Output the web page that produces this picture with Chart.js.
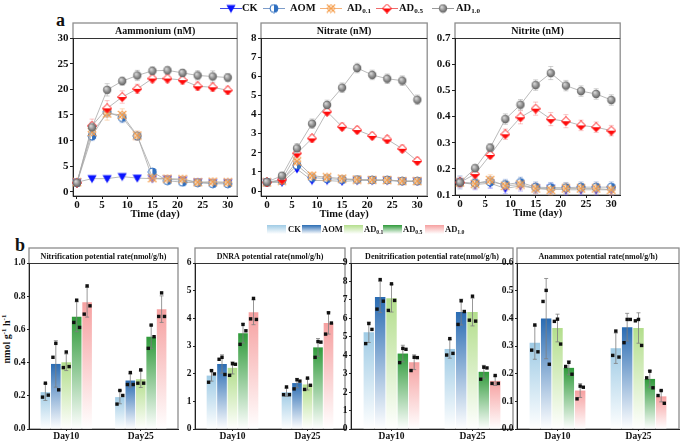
<!DOCTYPE html>
<html>
<head>
<meta charset="utf-8">
<script src="https://cdn.jsdelivr.net/npm/chart.js@4.4.1/dist/chart.umd.min.js"></script>
<style>
  body { margin: 0; background: #fff; }
  #fig { position: relative; width: 685px; height: 444px; overflow: hidden;
         font-family: "Liberation Serif", "Times New Roman", serif; font-weight: bold; color: #111; }
  #fig canvas { position: absolute; }
  .tag { position: absolute; font-size: 18px; line-height: 18px; }
  .lg { position: absolute; white-space: nowrap; }
  .lg sub { font-size: 68%; vertical-align: -2px; line-height: 0; }
  .sw { position: absolute; width: 19px; height: 9px; }
  #ylab { position: absolute; left: -33px; top: 333px; width: 80px; text-align: center;
          font-size: 10px; line-height: 12px; white-space: nowrap; transform: rotate(-90deg); }
  #ylab sup { font-size: 70%; line-height: 0; }
</style>
</head>
<body>
<div id="fig">
  <div class="tag" style="left:56px;top:11px">a</div>
  <div class="tag" style="left:15px;top:236px">b</div>
  <div id="ylab">nmol g<sup>-1</sup> h<sup>-1</sup></div>
</div>
<script>
const SERIF = '"Liberation Serif", "Times New Roman", serif';

// ---- data ----
const days = [0, 3, 6, 9, 12, 15, 18, 21, 24, 27, 30];
const series = ['CK', 'AOM', 'AD0.1', 'AD0.5', 'AD1.0'];
const groups = ['Day10', 'Day25'];

// panel a, rows = CK, AOM, AD0.1, AD0.5, AD1.0
const nh4 = [
  [1.9, 2.6, 2.6, 3.0, 2.7, 2.6, 2.5, 2.3, 1.9, 1.8, 1.8],
  [1.8, 10.9, 15.6, 14.5, 10.9, 3.9, 2.2, 1.9, 1.8, 1.6, 1.6],
  [1.9, 11.7, 15.3, 15.0, 11.0, 2.7, 2.6, 2.5, 1.9, 2.0, 1.9],
  [1.8, 12.9, 16.3, 18.5, 20.1, 22.1, 22.1, 21.8, 20.6, 20.4, 19.8],
  [1.8, 12.6, 19.9, 21.6, 22.7, 23.6, 23.7, 23.2, 22.7, 22.5, 22.3]
];
const nh4Err = [
  [0.3, 0.3, 0.3, 0.3, 0.3, 0.3, 0.3, 0.3, 0.3, 0.3, 0.3],
  [0.4, 0.9, 1.0, 1.0, 0.8, 0.5, 0.4, 0.4, 0.3, 0.4, 0.4],
  [0.4, 1.0, 1.3, 1.2, 0.9, 0.5, 0.5, 0.5, 0.4, 0.4, 0.4],
  [0.4, 1.3, 1.5, 1.2, 0.9, 0.8, 0.8, 0.8, 0.8, 0.8, 0.8],
  [0.4, 1.0, 1.2, 0.8, 1.0, 0.8, 0.7, 0.7, 0.9, 1.1, 0.8]
];
const no3 = [
  [0.45, 0.45, 1.15, 0.55, 0.55, 0.5, 0.55, 0.55, 0.55, 0.5, 0.5],
  [0.45, 0.55, 1.35, 0.7, 0.65, 0.6, 0.6, 0.58, 0.58, 0.52, 0.52],
  [0.45, 0.55, 1.55, 0.8, 0.72, 0.65, 0.6, 0.58, 0.57, 0.52, 0.52],
  [0.45, 0.6, 1.97, 2.75, 4.15, 3.36, 3.19, 2.88, 2.7, 2.21, 1.57],
  [0.47, 0.8, 2.23, 3.52, 4.5, 5.4, 6.43, 6.07, 5.87, 5.77, 4.77]
];
const no3Err = [
  [0.1, 0.1, 0.12, 0.1, 0.1, 0.1, 0.1, 0.1, 0.1, 0.1, 0.1],
  [0.12, 0.12, 0.15, 0.12, 0.12, 0.12, 0.12, 0.12, 0.12, 0.12, 0.12],
  [0.2, 0.2, 0.25, 0.15, 0.15, 0.15, 0.15, 0.15, 0.15, 0.15, 0.15],
  [0.15, 0.15, 0.2, 0.2, 0.2, 0.2, 0.2, 0.2, 0.2, 0.2, 0.2],
  [0.15, 0.15, 0.25, 0.25, 0.25, 0.25, 0.25, 0.25, 0.25, 0.25, 0.25]
];
const no2 = [
  [0.148, 0.14, 0.145, 0.125, 0.135, 0.125, 0.125, 0.12, 0.12, 0.12, 0.12],
  [0.148, 0.145, 0.15, 0.14, 0.148, 0.13, 0.128, 0.128, 0.13, 0.13, 0.13],
  [0.148, 0.143, 0.157, 0.135, 0.14, 0.125, 0.12, 0.125, 0.125, 0.125, 0.12],
  [0.148, 0.18, 0.253, 0.332, 0.397, 0.43, 0.39, 0.382, 0.366, 0.359, 0.346],
  [0.148, 0.202, 0.281, 0.39, 0.445, 0.52, 0.566, 0.518, 0.497, 0.486, 0.463]
];
const no2Err = [
  [0.02, 0.02, 0.02, 0.02, 0.02, 0.02, 0.02, 0.02, 0.02, 0.02, 0.02],
  [0.025, 0.02, 0.02, 0.02, 0.02, 0.02, 0.02, 0.02, 0.02, 0.02, 0.02],
  [0.02, 0.02, 0.02, 0.02, 0.02, 0.02, 0.02, 0.02, 0.02, 0.02, 0.02],
  [0.015, 0.015, 0.015, 0.02, 0.025, 0.025, 0.025, 0.025, 0.02, 0.02, 0.02],
  [0.015, 0.015, 0.015, 0.02, 0.02, 0.02, 0.025, 0.02, 0.02, 0.02, 0.02]
];
const nh4Ticks = [0, 5, 10, 15, 20, 25, 30];
const no3Ticks = [0, 1, 2, 3, 4, 5, 6, 7, 8];
const no2Ticks = [0.1, 0.2, 0.3, 0.4, 0.5, 0.6, 0.7];
const dayTicks = [0, 5, 10, 15, 20, 25, 30];

// panel b, rows = CK, AOM, AD0.1, AD0.5, AD1.0 ; [Day10, Day25]
const nitMean = [[0.222, 0.192], [0.392, 0.292], [0.402, 0.30], [0.676, 0.556], [0.764, 0.722]];
const nitSd = [[0.05, 0.04], [0.14, 0.04], [0.05, 0.05], [0.09, 0.07], [0.09, 0.08]];
const nitDots = [
  [[0.276, 0.192, 0.204], [0.232, 0.15, 0.202]],
  [[0.516, 0.432, 0.236], [0.34, 0.268, 0.268]],
  [[0.464, 0.37, 0.376], [0.356, 0.276, 0.276]],
  [[0.776, 0.642, 0.612], [0.626, 0.486, 0.556]],
  [[0.862, 0.692, 0.742], [0.82, 0.678, 0.678]]
];
const dnraMean = [[1.93, 1.33], [2.35, 1.66], [2.21, 1.61], [3.46, 2.95], [4.22, 3.83]];
const dnraSd = [[0.2, 0.15], [0.33, 0.17], [0.22, 0.2], [0.35, 0.32], [0.45, 0.4]];
const dnraDots = [
  [[2.11, 1.69, 1.99], [1.52, 1.24, 1.24]],
  [[2.59, 2.52, 1.97], [1.78, 1.45, 1.73]],
  [[2.36, 1.94, 2.34], [1.84, 1.43, 1.58]],
  [[3.78, 3.06, 3.55], [3.16, 2.59, 3.14]],
  [[4.72, 3.98, 3.96], [4.2, 3.43, 3.83]]
];
const denMean = [[5.24, 4.34], [7.16, 6.34], [7.09, 6.34], [4.09, 3.1], [3.62, 2.61]];
const denSd = [[0.55, 0.5], [0.85, 0.7], [0.75, 0.75], [0.45, 0.35], [0.4, 0.25]];
const denDots = [
  [[5.72, 4.63, 5.4], [4.9, 4.01, 4.1]],
  [[8.1, 6.5, 6.93], [6.95, 5.67, 6.37]],
  [[7.87, 6.43, 6.97], [7.2, 5.9, 5.85]],
  [[4.37, 3.6, 4.32], [3.35, 2.7, 3.31]],
  [[3.89, 3.17, 3.87], [2.9, 2.47, 2.47]]
];
const anaMean = [[0.312, 0.292], [0.399, 0.368], [0.365, 0.365], [0.221, 0.181], [0.139, 0.118]];
const anaSd = [[0.06, 0.055], [0.145, 0.05], [0.05, 0.055], [0.025, 0.03], [0.025, 0.02]];
const anaDots = [
  [[0.376, 0.285, 0.279], [0.354, 0.266, 0.26]],
  [[0.501, 0.461, 0.234], [0.396, 0.312, 0.396]],
  [[0.397, 0.389, 0.307], [0.396, 0.391, 0.302]],
  [[0.241, 0.226, 0.198], [0.209, 0.185, 0.149]],
  [[0.155, 0.109, 0.151], [0.139, 0.121, 0.093]]
];
const nitTicks = [0, 0.2, 0.4, 0.6, 0.8, 1.0];
const dnraTicks = [0, 1, 2, 3, 4, 5, 6];
const denTicks = [0, 1, 2, 3, 4, 5, 6, 7, 8, 9];
const anaTicks = [0, 0.1, 0.2, 0.3, 0.4, 0.5, 0.6];

// ---- styles ----
const barColors = ['#9fcbe5', '#2a6cb3', '#b3de8c', '#2f9a3a', '#f6a0a0'];
const errColors = ['rgba(90,90,255,0.45)', 'rgba(90,130,200,0.5)', 'rgba(245,165,95,0.55)',
                   'rgba(240,110,110,0.5)', 'rgba(150,150,150,0.55)'];
const legLine = ['#3d49e6', '#7d9cc9', '#f5b27a', '#ee6a6a', '#9a9a9a'];
const JIT = [0, -0.3, 0.3];

Chart.defaults.font.family = SERIF;
Chart.defaults.font.weight = 'bold';
Chart.defaults.color = '#111';

const fig = document.getElementById('fig');

function marker(kind, s) {
  const c = document.createElement('canvas');
  c.width = s; c.height = s;
  const g = c.getContext('2d');
  const m = s / 2;
  if (kind === 0) {
    g.fillStyle = '#0a14ff';
    g.beginPath();
    g.moveTo(m - s * 0.46, m - s * 0.36); g.lineTo(m + s * 0.46, m - s * 0.36); g.lineTo(m, m + s * 0.44);
    g.closePath(); g.fill();
  } else if (kind === 1) {
    const r = s * 0.4;
    g.fillStyle = '#fff'; g.beginPath(); g.arc(m, m, r, 0, Math.PI * 2); g.fill();
    g.fillStyle = '#2f6fc0'; g.beginPath(); g.arc(m, m, r, -Math.PI / 2, Math.PI / 2); g.closePath(); g.fill();
    g.strokeStyle = '#2f6fc0'; g.lineWidth = 1; g.beginPath(); g.arc(m, m, r, 0, Math.PI * 2); g.stroke();
  } else if (kind === 2) {
    const d = s * 0.42;
    g.fillStyle = 'rgba(250,205,160,0.55)';
    g.strokeStyle = '#f59a45'; g.lineWidth = 0.9;
    g.beginPath(); g.moveTo(m, m - d); g.lineTo(m + d, m); g.lineTo(m, m + d); g.lineTo(m - d, m); g.closePath();
    g.fill(); g.stroke();
    g.lineWidth = 1.2;
    g.beginPath(); g.moveTo(m - d, m - d); g.lineTo(m + d, m + d); g.moveTo(m + d, m - d); g.lineTo(m - d, m + d); g.stroke();
  } else if (kind === 3) {
    const d = s * 0.45;
    g.fillStyle = '#fff';
    g.beginPath(); g.moveTo(m, m - d); g.lineTo(m + d, m); g.lineTo(m, m + d); g.lineTo(m - d, m); g.closePath(); g.fill();
    g.fillStyle = '#ff0a0a';
    g.beginPath(); g.moveTo(m - d, m); g.lineTo(m + d, m); g.lineTo(m, m + d); g.closePath(); g.fill();
    g.strokeStyle = '#ff0a0a'; g.lineWidth = 1;
    g.beginPath(); g.moveTo(m, m - d); g.lineTo(m + d, m); g.lineTo(m, m + d); g.lineTo(m - d, m); g.closePath(); g.stroke();
  } else {
    const r = s * 0.42;
    const gr = g.createRadialGradient(m - r * 0.35, m - r * 0.4, r * 0.1, m, m, r);
    gr.addColorStop(0, '#d8d8d8'); gr.addColorStop(0.6, '#8e8e8e'); gr.addColorStop(1, '#5e5e5e');
    g.fillStyle = gr; g.beginPath(); g.arc(m, m, r, 0, Math.PI * 2); g.fill();
  }
  return c;
}
const markers = series.map((_, i) => marker(i, 10));

function addCanvas(sp) {
  const cv = document.createElement('canvas');
  sp.cx = sp.l - sp.yw; sp.cy = sp.s - 2;
  cv.width = Math.round(sp.r + 4 - sp.cx);
  cv.height = Math.round(sp.b + sp.xh - sp.cy);
  cv.style.left = sp.cx + 'px'; cv.style.top = sp.cy + 'px';
  fig.appendChild(cv);
  return cv;
}

function framePlugin(sp, title, size, xTitle) {
  return {
    id: 'frame',
    beforeDraw(chart) {
      const { ctx, chartArea: a } = chart;
      const st = sp.s - sp.cy;
      ctx.save();
      ctx.strokeStyle = '#8d8d8d'; ctx.lineWidth = 1.3;
      ctx.strokeRect(a.left, st, a.right - a.left, a.bottom - st);
      ctx.strokeStyle = '#333'; ctx.lineWidth = 1;
      ctx.beginPath(); ctx.moveTo(a.left, a.top + 0.5); ctx.lineTo(a.right, a.top + 0.5); ctx.stroke();
      ctx.fillStyle = '#111';
      ctx.font = `bold ${size}px ${SERIF}`;
      ctx.textAlign = 'center'; ctx.textBaseline = 'middle';
      ctx.fillText(title, (a.left + a.right) / 2, (st + a.top) / 2 + 1);
      if (xTitle) {
        ctx.font = `bold 10.5px ${SERIF}`;
        ctx.fillText(xTitle, (a.left + a.right) / 2, a.bottom + 18);
      }
      ctx.restore();
    }
  };
}

function axis(sp, min, max, ticks, fmt, size, horiz) {
  return {
    type: 'linear', min, max,
    afterBuildTicks: s => { s.ticks = ticks.map(v => ({ value: v })); },
    afterFit: s => { if (horiz) s.height = sp.xh; else s.width = sp.yw; },
    grid: { display: true, drawOnChartArea: false, drawTicks: true, tickLength: 3, color: '#222' },
    border: { display: true, color: '#222', width: 1 },
    ticks: { padding: horiz ? 0 : 1.5, autoSkip: false, maxRotation: 0,
             font: { size, weight: 'bold', family: SERIF }, color: '#111', callback: fmt }
  };
}

function linePanel(sp, title, vals, errs, yMin, yMax, yTicks, xMin, xMax, fmt) {
  const cv = addCanvas(sp);
  const errPlugin = {
    id: 'err',
    beforeDatasetsDraw(chart) {
      const ctx = chart.ctx, ys = chart.scales.y;
      ctx.save(); ctx.lineWidth = 0.8;
      vals.forEach((row, i) => {
        const meta = chart.getDatasetMeta(i);
        ctx.strokeStyle = errColors[i];
        row.forEach((v, j) => {
          const p = meta.data[j];
          const y1 = ys.getPixelForValue(v + errs[i][j]), y2 = ys.getPixelForValue(v - errs[i][j]);
          ctx.beginPath();
          ctx.moveTo(p.x, y1); ctx.lineTo(p.x, y2);
          ctx.moveTo(p.x - 2.5, y1); ctx.lineTo(p.x + 2.5, y1);
          ctx.moveTo(p.x - 2.5, y2); ctx.lineTo(p.x + 2.5, y2);
          ctx.stroke();
        });
      });
      ctx.restore();
    }
  };
  new Chart(cv, {
    type: 'line',
    data: {
      datasets: vals.map((row, i) => ({
        label: series[i],
        data: row.map((v, j) => ({ x: days[j], y: v })),
        borderColor: '#a8a8a8', borderWidth: 0.8,
        pointStyle: markers[i], pointRadius: 5,
        tension: 0, order: 4 - i, clip: false
      }))
    },
    options: {
      responsive: false, animation: false, devicePixelRatio: 1, events: [],
      layout: { padding: { left: 0, right: 4, top: sp.t - sp.cy, bottom: 0 } },
      plugins: { legend: { display: false }, tooltip: { enabled: false } },
      scales: {
        x: axis(sp, xMin, xMax, dayTicks, v => v, 11, true),
        y: axis(sp, yMin, yMax, yTicks, fmt, 11, false)
      }
    },
    plugins: [framePlugin(sp, title, 10, 'Time (day)'), errPlugin]
  });
}

function barPanel(sp, title, mean, sd, dots, yMax, yTicks, fmt) {
  const cv = addCanvas(sp);
  const dotPlugin = {
    id: 'dots',
    afterDatasetsDraw(chart) {
      const ctx = chart.ctx, ys = chart.scales.y;
      ctx.save();
      mean.forEach((row, i) => {
        const meta = chart.getDatasetMeta(i);
        row.forEach((m, j) => {
          const bar = meta.data[j];
          const yt = ys.getPixelForValue(m + sd[i][j]), yb = ys.getPixelForValue(m - sd[i][j]);
          ctx.strokeStyle = '#7d7d7d'; ctx.lineWidth = 0.8;
          ctx.beginPath();
          ctx.moveTo(bar.x, yt); ctx.lineTo(bar.x, yb);
          ctx.moveTo(bar.x - 2, yt); ctx.lineTo(bar.x + 2, yt);
          ctx.moveTo(bar.x - 2, yb); ctx.lineTo(bar.x + 2, yb);
          ctx.stroke();
          ctx.fillStyle = '#111';
          dots[i][j].forEach((v, k) => {
            const px = bar.x + JIT[k] * bar.width, py = ys.getPixelForValue(v);
            ctx.fillRect(px - 1.7, py - 1.7, 3.4, 3.4);
          });
        });
      });
      ctx.restore();
    }
  };
  const yAx = axis(sp, 0, yMax, yTicks, fmt, 9.5, false);
  yAx.grid.tickLength = 2;
  new Chart(cv, {
    type: 'bar',
    data: {
      labels: groups,
      datasets: mean.map((row, i) => ({
        label: series[i],
        data: row,
        borderWidth: 0,
        categoryPercentage: 0.7,
        barPercentage: 0.92,
        backgroundColor: c => {
          const ch = c.chart, ys = ch.scales && ch.scales.y;
          if (!ch.chartArea || !ys || c.raw == null) return barColors[i];
          const g = ch.ctx.createLinearGradient(0, ys.getPixelForValue(c.raw), 0, ys.getPixelForValue(0));
          g.addColorStop(0, barColors[i]);
          g.addColorStop(1, '#ffffff');
          return g;
        }
      }))
    },
    options: {
      responsive: false, animation: false, devicePixelRatio: 1, events: [],
      layout: { padding: { left: 0, right: 4, top: sp.t - sp.cy, bottom: 0 } },
      plugins: { legend: { display: false }, tooltip: { enabled: false } },
      scales: {
        x: {
          type: 'category', offset: true,
          afterFit: s => { s.height = sp.xh; },
          grid: { display: true, offset: false, drawOnChartArea: false, drawTicks: true, tickLength: 2, color: '#222' },
          border: { display: true, color: '#222', width: 1 },
          ticks: { padding: 0, font: { size: 9.5, weight: 'bold', family: SERIF }, color: '#111' }
        },
        y: yAx
      }
    },
    plugins: [framePlugin(sp, title, 8, null), dotPlugin]
  });
}

// ---- panel a ----
linePanel({ l: 73, r: 238.5, t: 38, b: 196, s: 23, yw: 33, xh: 26 }, 'Aammonium (nM)',
  nh4, nh4Err, -0.78, 30, nh4Ticks, -0.79, 31.87, v => v);
linePanel({ l: 261, r: 429, t: 38, b: 196, s: 23, yw: 33, xh: 26 }, 'Nitrate (nM)',
  no3, no3Err, -0.26, 8, no3Ticks, -1.18, 31.97, v => v);
linePanel({ l: 455, r: 622, t: 38, b: 195, s: 23, yw: 33, xh: 27 }, 'Nitrite (nM)',
  no2, no2Err, 0.1, 0.7, no2Ticks, -0.98, 31.76, v => v.toFixed(1));

// ---- panel b ----
barPanel({ l: 29, r: 178, t: 263, b: 429, s: 248, yw: 29, xh: 15 }, 'Nitrification potential rate(nmol/g/h)',
  nitMean, nitSd, nitDots, 1.0, nitTicks, v => v.toFixed(1));
barPanel({ l: 195, r: 345, t: 263, b: 429, s: 248, yw: 14, xh: 15 }, 'DNRA potential rate(nmol/g/h)',
  dnraMean, dnraSd, dnraDots, 6, dnraTicks, v => v);
barPanel({ l: 351, r: 513, t: 263, b: 429, s: 248, yw: 14, xh: 15 }, 'Denitrification potential rate(nmol/g/h)',
  denMean, denSd, denDots, 9, denTicks, v => v);
barPanel({ l: 517, r: 679, t: 263, b: 429, s: 248, yw: 20, xh: 15 }, 'Anammox potential rate(nmol/g/h)',
  anaMean, anaSd, anaDots, 0.6, anaTicks, v => v.toFixed(1));

// ---- legends ----
function legendText(name) {
  return name.startsWith('AD') ? 'AD<sub>' + name.slice(2) + '</sub>' : name;
}
const topLineX = [220, 263, 320, 376, 432];
const topTextX = [242, 290, 347, 399, 456];
series.forEach((name, i) => {
  const c = document.createElement('canvas');
  c.width = 22; c.height = 14;
  c.style.left = topLineX[i] + 'px'; c.style.top = '1px';
  const g = c.getContext('2d');
  g.strokeStyle = legLine[i]; g.lineWidth = 1;
  g.beginPath(); g.moveTo(0, 7.5); g.lineTo(22, 7.5); g.stroke();
  g.drawImage(markers[i], 11 - 5, 7.5 - 5);
  fig.appendChild(c);
  const t = document.createElement('div');
  t.className = 'lg';
  t.style.cssText = `left:${topTextX[i]}px;top:1px;font-size:10.5px;line-height:14px;`;
  t.innerHTML = legendText(name);
  fig.appendChild(t);
});
const botSwX = [267, 302, 344, 383, 425];
const botTextX = [288, 322, 364, 403, 445];
series.forEach((name, i) => {
  const s = document.createElement('div');
  s.className = 'sw';
  s.style.cssText = `left:${botSwX[i]}px;top:225px;background:linear-gradient(to bottom, ${barColors[i]}, #ffffff);`;
  fig.appendChild(s);
  const t = document.createElement('div');
  t.className = 'lg';
  t.style.cssText = `left:${botTextX[i]}px;top:223px;font-size:8.5px;line-height:13px;`;
  t.innerHTML = legendText(name);
  fig.appendChild(t);
});
</script>
</body>
</html>
